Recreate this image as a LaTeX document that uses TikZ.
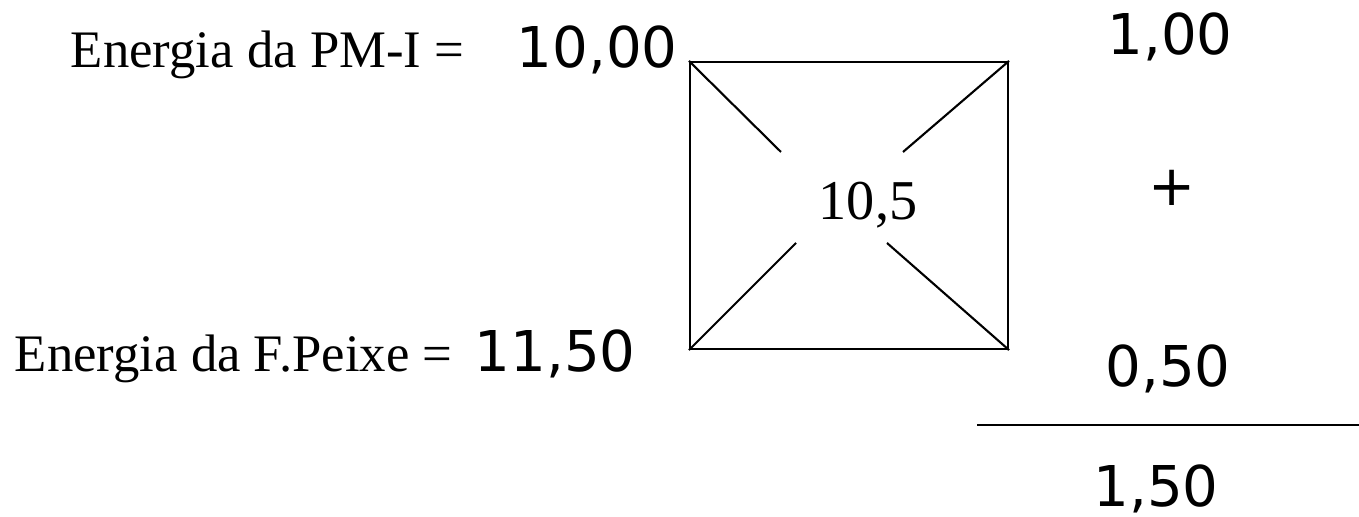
\documentclass[tikz,border=0pt]{standalone}
\usepackage{fontspec}
\setmainfont{Liberation Serif}
\newfontfamily\numfont{DejaVu Sans}
\usepackage{tikz}

\begin{document}
\begin{tikzpicture}[x=1cm,y=1cm,
  rotulo/.style={anchor=base east,inner sep=0pt,font=\fontsize{15}{18}\selectfont},
  valor/.style={inner sep=0pt,font=\numfont\fontsize{16}{19}\selectfont},
  traco/.style={line width=0.6pt}]
\path[use as bounding box] (0,0) rectangle (13.59,5.17);
% quadrado central
\node[traco,draw,inner sep=0pt,minimum width=3.18cm,minimum height=2.87cm] (caixa) at (8.49,3.115) {};
\coordinate (no) at (7.81,3.65);
\coordinate (ne) at (9.03,3.65);
\coordinate (so) at (7.96,2.74);
\coordinate (se) at (8.87,2.74);
\draw[traco] (caixa.north west) -- (no);
\draw[traco] (caixa.north east) -- (ne);
\draw[traco] (caixa.south west) -- (so);
\draw[traco] (caixa.south east) -- (se);
\node[anchor=base,inner sep=0pt,font=\fontsize{16}{19}\selectfont] (media) at (8.68,2.97) {10,5};
% energias
\node[rotulo] (pmi) at (4.65,4.49) {Energia da PM-I =};
\node[valor,anchor=base west] (vpmi) at (5.16,4.49) {10,00};
\node[rotulo] (peixe) at (4.53,1.45) {Energia da F.Peixe =};
\node[valor,anchor=base west] (vpeixe) at (4.74,1.45) {11,50};
% soma
\node[valor,anchor=base] (s1) at (11.70,4.62) {1,00};
\node[valor] (mais) at (11.72,3.29) {+};
\node[valor,anchor=base] (s2) at (11.68,1.30) {0,50};
\coordinate (ra) at (9.77,0.92);
\coordinate (rb) at (13.59,0.92);
\draw[traco] (ra) -- (rb);
\node[valor,anchor=base] (total) at (11.56,0.10) {1,50};
\end{tikzpicture}
\end{document}
